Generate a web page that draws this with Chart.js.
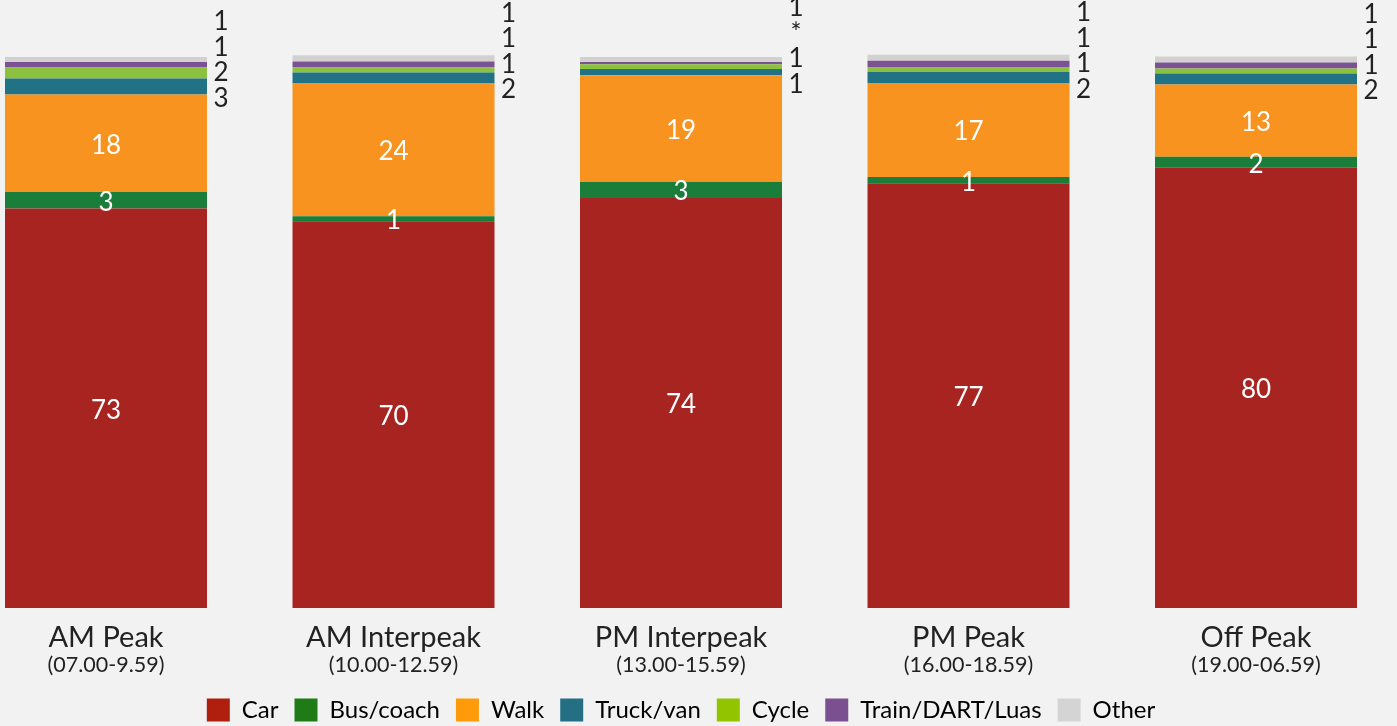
<!DOCTYPE html>
<html>
<head>
<meta charset="utf-8">
<script src="https://cdn.jsdelivr.net/npm/chart.js@4"></script>
<style>
  html, body { margin: 0; padding: 0; background: #f2f2f2; }
  #wrap { width: 1397px; height: 726px; }
</style>
</head>
<body>
<div id="wrap"><canvas id="chart"></canvas></div>
<script>
// periods and their time ranges
const periods = ['AM Peak', 'AM Interpeak', 'PM Interpeak', 'PM Peak', 'Off Peak'];
const timeRanges = ['(07.00-9.59)', '(10.00-12.59)', '(13.00-15.59)', '(16.00-18.59)', '(19.00-06.59)'];

// share of trips, %
const car = [72.5, 70.2, 74.4, 77.1, 79.9];
const busCoach = [3.0, 0.9, 2.9, 1.1, 2.0];
const walk = [17.7, 24.1, 19.4, 17.1, 13.1];
const truckVan = [2.9, 2.0, 1.1, 2.0, 2.0];
const cycle = [2.0, 0.9, 0.9, 0.9, 0.9];
const trainDartLuas = [1.0, 1.1, 0.4, 1.1, 1.1];
const other = [0.9, 1.1, 0.9, 1.1, 1.1];

const seriesNames = ['Car', 'Bus/coach', 'Walk', 'Truck/van', 'Cycle', 'Train/DART/Luas', 'Other'];
const barColors = ['#a82421', '#1a7d3a', '#f7931e', '#207284', '#8cc13f', '#7b5394', '#d3d1d0'];
const legendColors = ['#b01e0e', '#1e7b15', '#ff9a0a', '#256f84', '#92c400', '#7a5090', '#d4d4d4'];

const seriesData = [car, busCoach, walk, truckVan, cycle, trainDartLuas, other];

function fmt(v) {
    return v < 0.5 ? '*' : String(Math.round(v));
}

// background colour
const bgPlugin = {
    id: 'bg',
    beforeDraw(chart) {
        const ctx = chart.ctx;
        ctx.save();
        ctx.fillStyle = '#f2f2f2';
        ctx.fillRect(0, 0, chart.width, chart.height);
        ctx.restore();
    }
};

// value labels: big ones inside, small ones stacked on the right
const labelPlugin = {
    id: 'valueLabels',
    afterDatasetsDraw(chart) {
        const ctx = chart.ctx;
        ctx.save();
        ctx.textAlign = 'center';
        ctx.textBaseline = 'middle';
        ctx.font = '26px Lato';
        // inside labels
        for (let d = 0; d < 3; d++) {
            const meta = chart.getDatasetMeta(d);
            meta.data.forEach((bar, i) => {
                ctx.fillStyle = '#ffffff';
                ctx.fillText(fmt(seriesData[d][i]), bar.x, (bar.y + bar.base) / 2 + 2);
            });
        }
        // outside labels
        ctx.fillStyle = '#222222';
        ctx.font = '26px Lato';
        const truckMeta = chart.getDatasetMeta(3);
        truckMeta.data.forEach((bar, i) => {
            const x = bar.x + bar.width / 2 + 14;
            const y0 = (bar.y + bar.base) / 2 + 12;
            for (let d = 3; d < 7; d++) {
                ctx.fillText(fmt(seriesData[d][i]), x, y0 - (d - 3) * 25.5);
            }
        });
        ctx.restore();
    }
};

// two-line category labels under the bars
const xLabelPlugin = {
    id: 'xLabels',
    afterDraw(chart) {
        const ctx = chart.ctx;
        const xs = chart.scales.x;
        const bottom = chart.chartArea.bottom;
        ctx.save();
        ctx.textAlign = 'center';
        ctx.textBaseline = 'middle';
        ctx.fillStyle = '#222222';
        periods.forEach((p, i) => {
            const x = xs.getPixelForValue(i);
            ctx.font = '29px Lato';
            ctx.fillText(p, x, bottom + 30);
            ctx.font = '21.5px Lato';
            ctx.fillText(timeRanges[i], x, bottom + 57);
        });
        ctx.restore();
    }
};

new Chart(document.getElementById('chart'), {
    type: 'bar',
    data: {
        labels: periods,
        datasets: seriesNames.map((name, i) => ({
            label: name,
            data: seriesData[i],
            backgroundColor: barColors[i],
            borderWidth: 0,
            clip: false,
            categoryPercentage: 1,
            barPercentage: 0.7026
        }))
    },
    options: {
        responsive: true,
        maintainAspectRatio: false,
        animation: false,
        layout: {
            padding: { left: 106, right: 141, top: 57, bottom: -6 }
        },
        scales: {
            x: {
                stacked: true,
                offset: false,
                grid: { display: false },
                border: { display: false },
                ticks: { display: false },
                afterFit(axis) { axis.height = 74; }
            },
            y: {
                stacked: true,
                display: false,
                min: 0,
                max: 100
            }
        },
        plugins: {
            legend: {
                position: 'bottom',
                labels: {
                    font: { family: 'Lato', size: 24 },
                    color: '#222222',
                    boxWidth: 23,
                    boxHeight: 23,
                    padding: 16,
                    generateLabels(chart) {
                        return chart.data.datasets.map((ds, i) => ({
                            text: ds.label,
                            fillStyle: legendColors[i],
                            strokeStyle: legendColors[i],
                            lineWidth: 0,
                            hidden: false,
                            datasetIndex: i
                        }));
                    }
                }
            },
            tooltip: { enabled: false }
        }
    },
    plugins: [bgPlugin, labelPlugin, xLabelPlugin]
});
</script>
</body>
</html>
